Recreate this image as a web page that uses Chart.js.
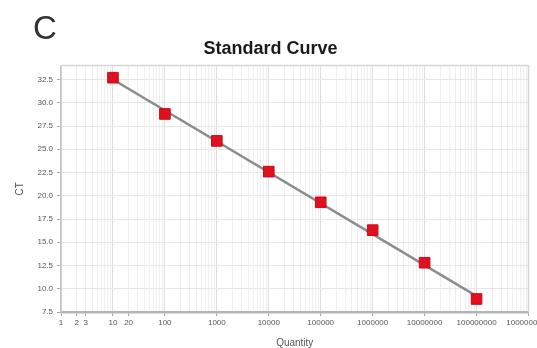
<!DOCTYPE html>
<html>
<head>
<meta charset="utf-8">
<script src="https://cdn.jsdelivr.net/npm/chart.js@4/dist/chart.umd.min.js"></script>
<style>
  html, body { margin: 0; padding: 0; background: #fff; }
  #wrap { position: relative; width: 537px; height: 348px; }
  #panel {
    position: absolute; left: 33px; top: 11px;
    font-family: "Liberation Sans", Arial, sans-serif;
    font-size: 33px; color: #333; line-height: 1;
  }
  canvas { position: absolute; left: 0; top: 0; }
</style>
</head>
<body>
<div id="wrap">
  <canvas id="chart" width="537" height="348"></canvas>
  <div id="panel">C</div>
</div>
<script>
// Dilution series: template quantity vs. threshold cycle
const quantities = [10, 100, 1000, 10000, 100000, 1000000, 10000000, 100000000];
const ctValues   = [32.7, 28.8, 25.9, 22.6, 19.3, 16.3, 12.8, 8.9];

// Fitted standard-curve line (end points)
const fitQuantities = [10, 100000000];
const fitCt         = [32.5, 9.2];

// Axis ticks
const ctTicks = [7.5, 10.0, 12.5, 15.0, 17.5, 20.0, 22.5, 25.0, 27.5, 30.0, 32.5];
const quantityLabels = [1, 2, 3, 10, 20, 100, 1000, 10000, 100000, 1000000,
                        10000000, 100000000, 1000000000];

const toPoints = (xs, ys) => xs.map((x, i) => ({ x: x, y: ys[i] }));
const isDecade = v => Math.abs(Math.log10(v) - Math.round(Math.log10(v))) < 1e-9;
const isLabelled = v => quantityLabels.some(q => Math.abs(q - v) / q < 1e-9);

// every 1..9 x 10^k grid position across the quantity range
function logGridValues(minExp, maxExp) {
  const out = [];
  for (let e = minExp; e < maxExp; e++) {
    for (let d = 1; d <= 9; d++) out.push(d * Math.pow(10, e));
  }
  out.push(Math.pow(10, maxExp));
  return out;
}

// thin frame round the plotting area
const plotFrame = {
  id: 'plotFrame',
  beforeDatasetsDraw(chart) {
    const { ctx, chartArea: a } = chart;
    ctx.save();
    ctx.strokeStyle = '#d6d6d6';
    ctx.lineWidth = 1.5;
    ctx.beginPath();
    ctx.moveTo(a.left, a.top);
    ctx.lineTo(a.right, a.top);
    ctx.lineTo(a.right, a.bottom);
    ctx.stroke();
    ctx.restore();
  }
};

new Chart(document.getElementById('chart'), {
  type: 'scatter',
  data: {
    datasets: [
      {
        label: 'Standards',
        data: toPoints(quantities, ctValues),
        pointStyle: 'rect',
        pointRadius: 7.5,
        pointHoverRadius: 7.5,
        backgroundColor: '#e0101e',
        borderColor: '#c80a18',
        borderWidth: 1
      },
      {
        label: 'Fit',
        data: toPoints(fitQuantities, fitCt),
        showLine: true,
        pointRadius: 0,
        borderColor: '#8c8c8c',
        borderWidth: 2.5,
        fill: false
      }
    ]
  },
  options: {
    responsive: false,
    animation: false,
    events: [],
    layout: { padding: { left: 0, right: -4, top: 0, bottom: 0 } },
    plugins: {
      legend: { display: false },
      tooltip: { enabled: false },
      title: {
        display: true,
        text: 'Standard Curve',
        color: '#1a1a1a',
        font: { family: '"Liberation Sans", Arial, sans-serif', size: 18, weight: 'bold' },
        padding: { top: 38, bottom: 6 }
      }
    },
    scales: {
      x: {
        type: 'logarithmic',
        min: 1,
        max: 1000000000,
        afterBuildTicks(scale) {
          scale.ticks = logGridValues(0, 9).map(v => ({ value: v }));
        },
        afterFit(scale) {
          scale.height = 36;
          scale.paddingLeft = 0;
          scale.paddingRight = 0;
        },
        ticks: {
          autoSkip: false,
          maxRotation: 0,
          minRotation: 0,
          padding: 2,
          color: '#555',
          font: { family: '"Liberation Sans", Arial, sans-serif', size: 8 },
          callback(value) {
            return isLabelled(value) ? String(value) : '';
          }
        },
        grid: {
          color: ctx => (ctx.tick && isDecade(ctx.tick.value)) ? '#dedede' : '#efefef',
          lineWidth: 1,
          tickLength: 4,
          tickColor: ctx => (ctx.tick && isLabelled(ctx.tick.value)) ? '#aaaaaa' : 'rgba(0,0,0,0)'
        },
        border: { color: '#b4b4b4', width: 2.5 },
        title: {
          display: true,
          text: 'Quantity',
          color: '#555',
          font: { family: '"Liberation Sans", Arial, sans-serif', size: 10 },
          padding: { top: 0, bottom: -1 }
        }
      },
      y: {
        min: 7.5,
        max: 34,
        afterBuildTicks(scale) {
          scale.ticks = ctTicks.map(v => ({ value: v }));
        },
        afterFit(scale) {
          scale.width = 61;
          scale.paddingTop = 0;
          scale.paddingBottom = 0;
        },
        ticks: {
          padding: 4,
          color: '#555',
          font: { family: '"Liberation Sans", Arial, sans-serif', size: 8 },
          callback: value => Number(value).toFixed(1)
        },
        grid: {
          color: '#e6e6e6',
          lineWidth: 1,
          tickLength: 4,
          tickColor: '#aaaaaa'
        },
        border: { color: '#c4c4c4', width: 1.5 },
        title: {
          display: true,
          text: 'CT',
          color: '#555',
          font: { family: '"Liberation Sans", Arial, sans-serif', size: 10 },
          padding: { top: 14, bottom: 0 }
        }
      }
    }
  },
  plugins: [plotFrame]
});
</script>
</body>
</html>
